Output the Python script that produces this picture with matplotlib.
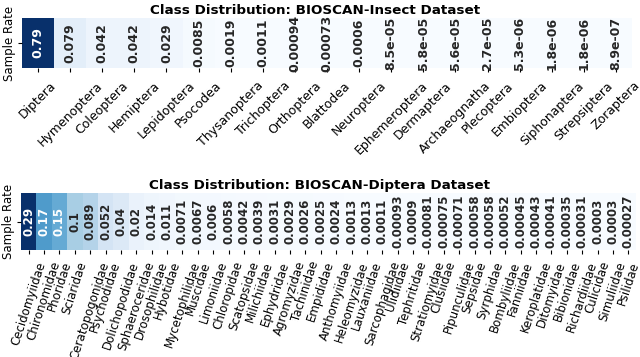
import matplotlib
matplotlib.use("Agg")
import matplotlib.pyplot as plt
import numpy as np
import seaborn as sns

insect_orders = [
    "Diptera", "Hymenoptera", "Coleoptera", "Hemiptera", "Lepidoptera",
    "Psocodea", "Thysanoptera", "Trichoptera", "Orthoptera", "Blattodea",
    "Neuroptera", "Ephemeroptera", "Dermaptera", "Archaeognatha",
    "Plecoptera", "Embioptera", "Siphonaptera", "Strepsiptera", "Zoraptera",
]
insect_rates = [
    0.79, 0.079, 0.042, 0.042, 0.029, 0.0085, 0.0019, 0.0011, 0.00094,
    0.00073, 0.0006, 8.5e-05, 5.8e-05, 5.6e-05, 2.7e-05, 5.3e-06, 1.8e-06,
    1.8e-06, 8.9e-07,
]

diptera_families = [
    "Cecidomyiidae", "Chironomidae", "Phoridae", "Sciaridae",
    "Ceratopogonidae", "Psychodidae", "Dolichopodidae", "Sphaeroceridae",
    "Drosophilidae", "Hybotidae", "Mycetophilidae", "Muscidae", "Limoniidae",
    "Chloropidae", "Scatopsidae", "Milichiidae", "Ephydridae", "Agromyzidae",
    "Tachinidae", "Empididae", "Anthomyiidae", "Heleomyzidae", "Lauxaniidae",
    "Sarcophagidae", "Ulidiidae", "Tephritidae", "Stratiomyidae", "Clusiidae",
    "Pipunculidae", "Sepsidae", "Syrphidae", "Bombyliidae", "Fanniidae",
    "Keroplatidae", "Ditomyidae", "Bibionidae", "Richardiidae", "Culicidae",
    "Simuliidae", "Psilidae",
]
diptera_rates = [
    0.29, 0.17, 0.15, 0.1, 0.089, 0.052, 0.04, 0.02, 0.014, 0.011, 0.0071,
    0.0067, 0.006, 0.0058, 0.0042, 0.0039, 0.0031, 0.0029, 0.0026, 0.0025,
    0.0024, 0.0013, 0.0013, 0.0011, 0.00093, 0.0009, 0.00081, 0.00075,
    0.00071, 0.00058, 0.00058, 0.00052, 0.00045, 0.00043, 0.00041, 0.00035,
    0.00031, 0.0003, 0.0003, 0.00027,
]


def draw(ax, labels, values, title, rot, fs, pad, title_x):
    data = np.array(values)[None, :]
    sns.heatmap(
        data,
        ax=ax,
        cmap="Blues",
        annot=True,
        fmt=".2g",
        cbar=False,
        annot_kws={"rotation": 90, "weight": "bold", "size": fs},
        xticklabels=labels,
        yticklabels=[""],
    )
    ax.set_xticklabels(labels, rotation=rot, ha="center", fontsize=fs)
    ax.set_ylabel("Sample Rate", fontsize=8.5)
    ax.yaxis.set_label_coords(-0.01, 0.5)
    ax.set_title(title, fontsize=9.7, weight="bold", pad=3, x=title_x)
    ax.tick_params(axis="both", length=3)
    ax.tick_params(axis="x", pad=pad)


fig = plt.figure(figsize=(6.4, 3.57), dpi=100)
ax1 = fig.add_axes([22 / 640, 1 - 68 / 357, 610 / 640, 50 / 357])
ax2 = fig.add_axes([21 / 640, 1 - 250 / 357, 615 / 640, 57 / 357])

draw(ax1, insect_orders, insect_rates,
     "Class Distribution: BIOSCAN-Insect Dataset", 45, 9, 5, 0.48)
draw(ax2, diptera_families, diptera_rates,
     "Class Distribution: BIOSCAN-Diptera Dataset", 72, 8.5, 4, 0.486)

fig.savefig("out.png", dpi=100)
